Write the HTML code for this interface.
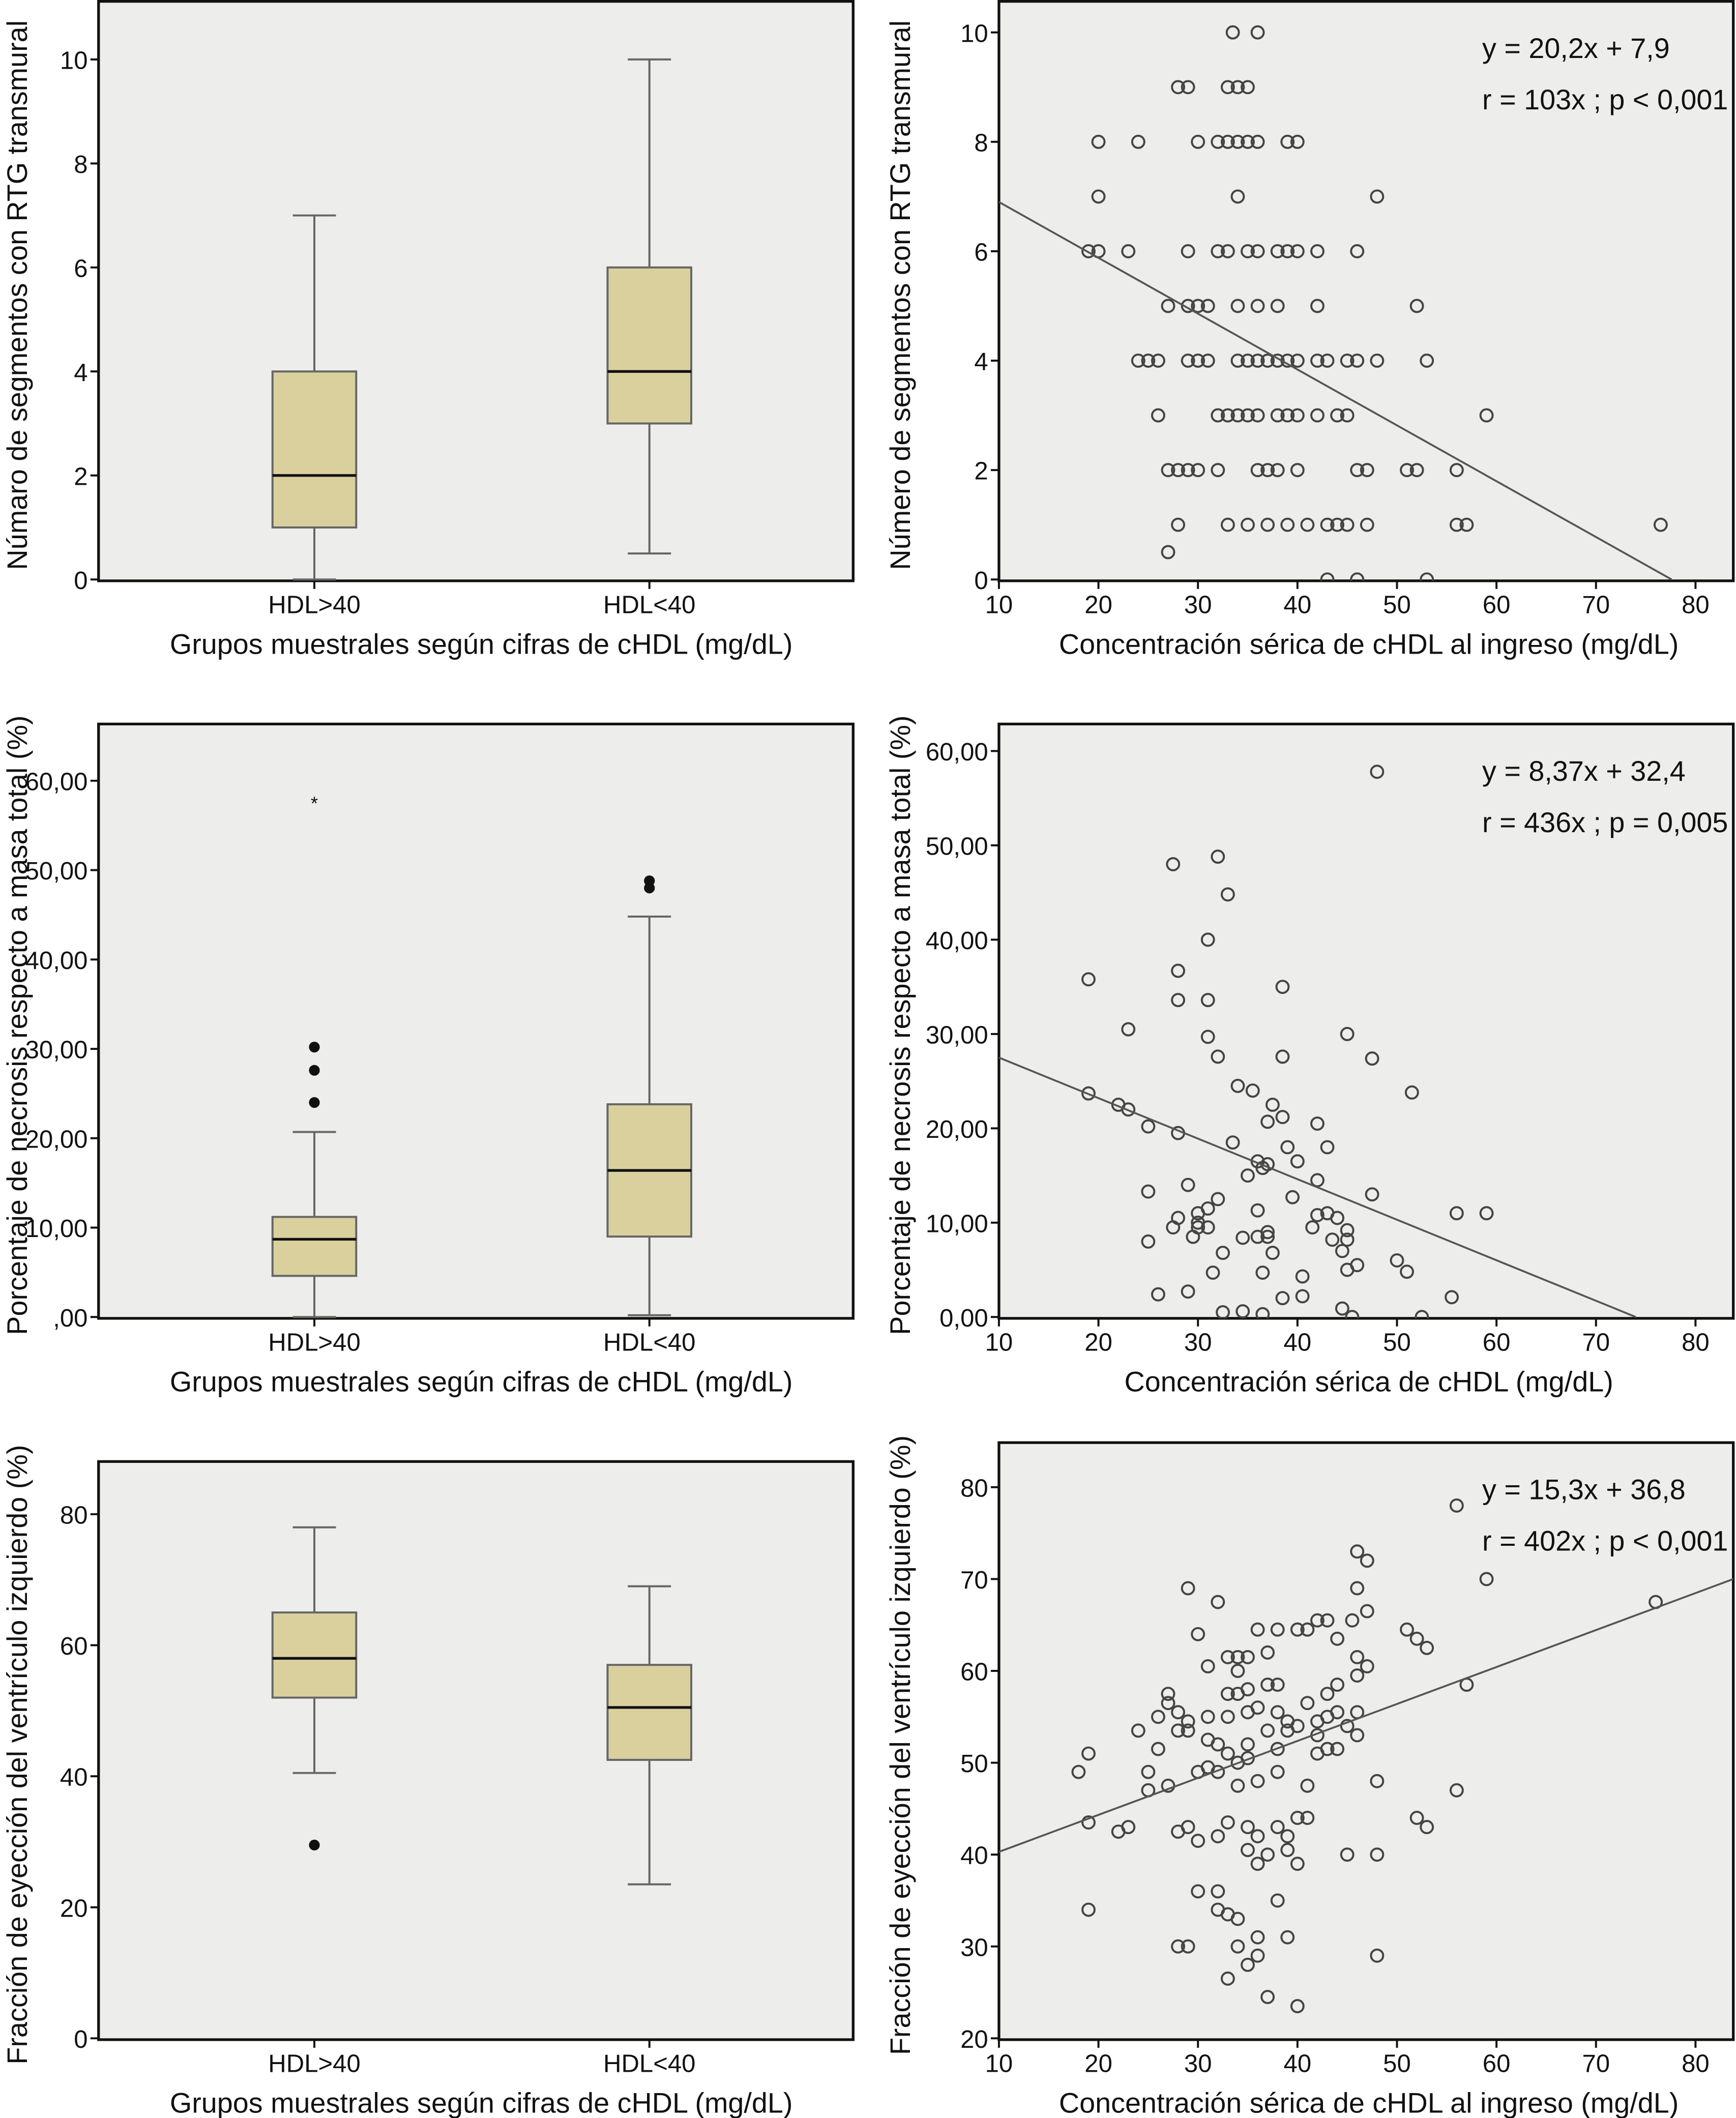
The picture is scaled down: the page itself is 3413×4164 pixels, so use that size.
<!DOCTYPE html>
<html><head><meta charset="utf-8">
<style>
html,body{margin:0;padding:0;background:#fff;}
svg{display:block;}
text{font-family:"Liberation Sans Narrow","Liberation Sans",sans-serif;fill:#111;}
</style></head>
<body>
<svg id="fig" width="3413" height="4164" viewBox="0 0 1286 1568" preserveAspectRatio="none" xmlns="http://www.w3.org/2000/svg"></svg>
<script>
// ---- Data ----
const boxCategories = ["HDL>40", "HDL<40"];
// Panel A: segments with transmural RTG
const boxA_q1 = [1, 3];
const boxA_med = [2, 4];
const boxA_q3 = [4, 6];
const boxA_lo = [0, 0.5];
const boxA_hi = [7, 10];
const yTicksA = [0, 2, 4, 6, 8, 10];
// Panel C: necrosis %
const boxC_q1 = [4.6, 9.0];
const boxC_med = [8.7, 16.4];
const boxC_q3 = [11.2, 23.8];
const boxC_lo = [0, 0.2];
const boxC_hi = [20.7, 44.8];
const boxC_outDots = [[24, 27.6, 30.2], [48, 48.8]];
const boxC_outStars = [[57.8], []];
const yTicksC = [0, 10, 20, 30, 40, 50, 60];
const yTickLabelsC = [",00", "10,00", "20,00", "30,00", "40,00", "50,00", "60,00"];
// Panel E: ejection fraction
const boxE_q1 = [52, 42.5];
const boxE_med = [58, 50.5];
const boxE_q3 = [65, 57];
const boxE_lo = [40.5, 23.5];
const boxE_hi = [78, 69];
const boxE_outDots = [[29.5], []];
const yTicksE = [0, 20, 40, 60, 80];

const xTicksScatter = [10, 20, 30, 40, 50, 60, 70, 80];
// Panel B scatter
const scatB_x = [33.5,36, 28,29,33,34,35, 20,24,30,32,33,34,35,36,39,40, 20,34,48,
 19,20,23,29,32,33,35,36,38,39,40,42,46, 27,29,30,31,34,36,38,42,52,
 24,25,26,29,30,31,34,35,36,37,38,39,40,42,43,45,46,48,53,
 26,32,33,34,35,36,38,39,40,42,44,45,59, 27,28,29,30,32,36,37,38,40,46,47,51,52,56,
 28,33,35,37,39,41,43,44,45,47,56,57,76.5, 27, 43,46,53];
const scatB_y = [10,10, 9,9,9,9,9, 8,8,8,8,8,8,8,8,8,8, 7,7,7,
 6,6,6,6,6,6,6,6,6,6,6,6,6, 5,5,5,5,5,5,5,5,5,
 4,4,4,4,4,4,4,4,4,4,4,4,4,4,4,4,4,4,4,
 3,3,3,3,3,3,3,3,3,3,3,3,3, 2,2,2,2,2,2,2,2,2,2,2,2,2,2,
 1,1,1,1,1,1,1,1,1,1,1,1,1, 0.5, 0,0,0];
const fitB = [10, 6.9, 77.6, 0];
const yTicksB = [0, 2, 4, 6, 8, 10];
// Panel D scatter
const scatD_x = [48,32,27.5,33,31,19,28,38.5,28,31,23,31,45,32,38.5,47.5,34,35.5,19,51.5,22,23,37.5,38.5,37,42,25,28,33.5,39,43,36,37,36.5,40,35,42,29,32,36,42,43,25,39.5,47.5,30,30,31,27.5,28,30,31,44,45,41.5,45,37,37,36,34.5,43.5,25,29.5,32.5,37.5,44.5,31.5,36.5,40.5,45,46,50,51,56,59,38.5,40.5,26,29,55.5,32.5,34.5,36.5,44.5,45.5,52.5];
const scatD_y = [57.8,48.8,48,44.8,40,35.8,36.7,35,33.6,33.6,30.5,29.7,30,27.6,27.6,27.4,24.5,24,23.7,23.8,22.5,22,22.5,21.2,20.7,20.5,20.2,19.5,18.5,18,18,16.5,16.2,15.8,16.5,15,14.5,14,12.5,11.3,10.8,11,13.3,12.7,13,11,10,11.5,9.5,10.5,9.5,9.5,10.5,9.2,9.5,8.2,9,8.5,8.5,8.4,8.2,8,8.5,6.8,6.8,7,4.7,4.7,4.3,5,5.5,6,4.8,11,11,2,2.2,2.4,2.7,2.1,0.5,0.6,0.3,0.9,0,0];
const fitD = [10, 27.5, 74, 0];
const yTicksD = [0, 10, 20, 30, 40, 50, 60];
const yTickLabelsD = ["0,00","10,00","20,00","30,00","40,00","50,00","60,00"];
// Panel F scatter
const scatF_x = [56,59,76,46,47,43,46,45.5,47,29,32,36,38,40,41,42,44,47,51,52,53,30,31,33,34,35,37,34,37,38,33,34,35,41,43,44,46,46,57,27,27,26,28,29,31,33,35,36,38,39,42,43,44,46,24,28,29,31,32,35,37,39,40,42,45,46,26,33,35,38,42,43,44,19,18,25,30,31,32,34,38,34,36,41,27,25,48,56,19,22,23,28,29,30,32,33,35,36,38,39,40,41,52,53,35,37,39,45,48,40,36,19,30,32,33,34,38,28,29,34,36,35,39,33,37,40,48,36,32];
const scatF_y = [78,70,67.5,73,72,65.5,69,65.5,66.5,69,67.5,64.5,64.5,64.5,64.5,65.5,63.5,60.5,64.5,63.5,62.5,64,60.5,61.5,61.5,61.5,62,60,58.5,58.5,57.5,57.5,58,56.5,57.5,58.5,61.5,59.5,58.5,57.5,56.5,55,55.5,54.5,55,55,55.5,56,55.5,54.5,54.5,55,55.5,55.5,53.5,53.5,53.5,52.5,52,52,53.5,53.5,54,53,54,53,51.5,51,50.5,51.5,51,51.5,51.5,51,49,49,49,49.5,49,50,49,47.5,48,47.5,47.5,47,48,47,43.5,42.5,43,42.5,43,41.5,42,43.5,43,42,43,42,44,44,44,43,40.5,40,40.5,40,40,39,39,34,36,36,33.5,33,35,30,30,30,29,28,31,26.5,24.5,23.5,29,31,34];
const fitF = [10, 40.3, 83.8, 70];
const yTicksF = [20, 30, 40, 50, 60, 70, 80];

// ---- Drawing helpers ----
const NS = "http://www.w3.org/2000/svg";
const svg = document.getElementById("fig");
function mk(tag, attrs, parent) {
  const e = document.createElementNS(NS, tag);
  for (const k in attrs) e.setAttribute(k, attrs[k]);
  (parent || svg).appendChild(e);
  return e;
}
function txt(s, x, y, anchor, size, parent, rot) {
  const t = mk("text", {x: x, y: y, "text-anchor": anchor, "font-size": size}, parent);
  if (rot) t.setAttribute("transform", "rotate(-90 " + x + " " + y + ")");
  t.textContent = s;
  return t;
}
function scale(d0, d1, r0, r1) { return v => r0 + (v - d0) * (r1 - r0) / (d1 - d0); }

function frame(name, L, T, R, B) {
  const g = mk("g", {});
  
  
  const bg = mk("rect", {x: L, y: T, width: R - L, height: B - T, fill: "#ededeb", stroke: "#111", "stroke-width": 2}, g);
  
  
  return g;
}
function yAxis(g, ticks, labels, sy, L) {
  const ax = mk("g", {}, g);
  
  
  ticks.forEach((v, i) => {
    const y = sy(v);
    mk("line", {x1: L - 6, x2: L, y1: y, y2: y, stroke: "#111", "stroke-width": 1.5}, ax);
    const t = txt(labels ? labels[i] : String(v), L - 8, y + 7, "end", 18.5, ax);
    
    
  });
}
function xAxisNum(g, ticks, sx, B) {
  const ax = mk("g", {}, g);
  
  
  ticks.forEach(v => {
    const x = sx(v);
    mk("line", {x1: x, x2: x, y1: B, y2: B + 6, stroke: "#111", "stroke-width": 1.5}, ax);
    const t = txt(String(v), x, B + 24, "middle", 18.5, ax);
    
    
  });
}
function titles(g, xt, xtx, xty, yt, ytx, yty) {
  const a = txt(xt, xtx, xty, "middle", 21, g);
  
  
  const b = txt(yt, ytx, yty, "middle", 21, g, true);
  
  
}
function boxPlot(name, L, T, R, B, dmin, dmax, yMinPix, yMaxPix, ticks, labels, q1, med, q3, lo, hi, dots, stars, xt, yt) {
  const g = frame(name, L, T, R, B);
  const sy = scale(dmin, dmax, yMinPix, yMaxPix);
  const cx = [L + (R - L) * 0.286, L + (R - L) * 0.73];
  yAxis(g, ticks, labels, sy, L);
  const hw = 31;
  boxCategories.forEach((c, i) => {
    const x = cx[i];
    const bg = mk("g", {}, g);
    
    
    mk("line", {x1: x, x2: x, y1: sy(lo[i]), y2: sy(q1[i]), stroke: "#666", "stroke-width": 1.5}, bg);
    mk("line", {x1: x, x2: x, y1: sy(hi[i]), y2: sy(q3[i]), stroke: "#666", "stroke-width": 1.5}, bg);
    mk("line", {x1: x - 16, x2: x + 16, y1: sy(lo[i]), y2: sy(lo[i]), stroke: "#666", "stroke-width": 1.5}, bg);
    mk("line", {x1: x - 16, x2: x + 16, y1: sy(hi[i]), y2: sy(hi[i]), stroke: "#666", "stroke-width": 1.5}, bg);
    mk("rect", {x: x - hw, y: sy(q3[i]), width: 2 * hw, height: sy(q1[i]) - sy(q3[i]), fill: "#d9d09e", stroke: "#666", "stroke-width": 1.5}, bg);
    mk("line", {x1: x - hw, x2: x + hw, y1: sy(med[i]), y2: sy(med[i]), stroke: "#111", "stroke-width": 2}, bg);
    if (dots) dots[i].forEach(v => {
      const d = mk("circle", {cx: x, cy: sy(v), r: 4, fill: "#111"}, bg);
      
      
    });
    if (stars) stars[i].forEach(v => {
      const s = txt("*", x, sy(v) + 7, "middle", 14, bg);
      
      
    });
    mk("line", {x1: x, x2: x, y1: B, y2: B + 6, stroke: "#111", "stroke-width": 1.5}, g);
    const t = txt(c, x, B + 24, "middle", 18.5, g);
    
    
  });
  titles(g, xt, (L + R) / 2 + 4, B + 54, yt, 20, (T + B) / 2 + 3);
}
function scatter(name, L, T, R, B, ymin, ymax, yMinPix, yMaxPix, ticks, labels, xs, ys, fit, eq, rr, xt, yt) {
  const g = frame(name, L, T, R, B);
  const sx = scale(10, 80, 740, 1256);
  const sy = scale(ymin, ymax, yMinPix, yMaxPix);
  yAxis(g, ticks, labels, sy, L);
  xAxisNum(g, xTicksScatter, sx, B);
  const clipId = name + "-clip";
  const cp = mk("clipPath", {id: clipId}, g);
  mk("rect", {x: L, y: T, width: R - L, height: B - T}, cp);
  const pts = mk("g", {"clip-path": "url(#" + clipId + ")"}, g);
  
  
  xs.forEach((xv, i) => {
    const c = mk("circle", {cx: sx(xv), cy: sy(ys[i]), r: 4.5, fill: "none", stroke: "#444", "stroke-width": 1.5}, pts);
    
    
  });
  const ln = mk("line", {x1: sx(fit[0]), y1: sy(fit[1]), x2: sx(fit[2]), y2: sy(fit[3]), stroke: "#555", "stroke-width": 1.4, "clip-path": "url(#" + clipId + ")"}, g);
  
  
  const e1 = txt(eq, 1098, T + 42, "start", 21, g);
  
  
  const e2 = txt(rr, 1098, T + 80, "start", 21, g);
  
  
  titles(g, xt, (L + R) / 2 + 2, B + 54, yt, 674, (T + B) / 2 + 3);
}

const grp = "Grupos muestrales según cifras de cHDL (mg/dL)";
boxPlot("panel-segments-boxplot", 73, 1, 632, 430, 0, 10, 429, 44, yTicksA, null,
  boxA_q1, boxA_med, boxA_q3, boxA_lo, boxA_hi, null, null, grp, "Númaro de segmentos con RTG transmural");
scatter("panel-segments-scatter", 740, 1, 1284, 430, 0, 10, 429, 24, yTicksB, null,
  scatB_x, scatB_y, fitB, "y = 20,2x + 7,9", "r = 103x ; p < 0,001",
  "Concentración sérica de cHDL al ingreso (mg/dL)", "Número de segmentos con RTG transmural");
boxPlot("panel-necrosis-boxplot", 73, 536, 632, 976, 0, 60, 975, 578, yTicksC, yTickLabelsC,
  boxC_q1, boxC_med, boxC_q3, boxC_lo, boxC_hi, boxC_outDots, boxC_outStars, grp, "Porcentaje de necrosis respecto a masa total (%)");
scatter("panel-necrosis-scatter", 740, 536, 1284, 976, 0, 60, 975, 556, yTicksD, yTickLabelsD,
  scatD_x, scatD_y, fitD, "y = 8,37x + 32,4", "r = 436x ; p = 0,005",
  "Concentración sérica de cHDL (mg/dL)", "Porcentaje de necrosis respecto a masa total (%)");
boxPlot("panel-ejection-boxplot", 73, 1082, 632, 1510, 0, 80, 1509, 1121, yTicksE, null,
  boxE_q1, boxE_med, boxE_q3, boxE_lo, boxE_hi, boxE_outDots, null, grp, "Fracción de eyección del ventrículo izquierdo (%)");
scatter("panel-ejection-scatter", 740, 1068, 1284, 1510, 20, 80, 1509, 1101, yTicksF, null,
  scatF_x, scatF_y, fitF, "y = 15,3x + 36,8", "r = 402x ; p < 0,001",
  "Concentración sérica de cHDL al ingreso (mg/dL)", "Fracción de eyección del ventrículo izquierdo (%)");
</script>
</body></html>
